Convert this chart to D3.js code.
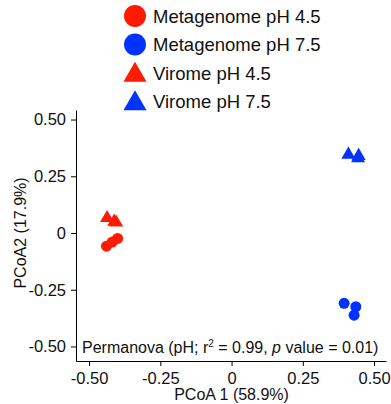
<!DOCTYPE html>
<html>
<head>
<meta charset="utf-8">
<script src="https://cdn.jsdelivr.net/npm/d3@7"></script>
<style>
  body { margin: 0; background: #fff; }
  svg { font-family: "Liberation Sans", Arial, sans-serif; }
  .axis path, .axis line { stroke: #000; }
  .axis text { font-size: 16.5px; fill: #111; }
</style>
</head>
<body>
<svg id="chart" width="391" height="404"></svg>
<script>
// groups in legend order
var groups = ["Metagenome pH 4.5", "Metagenome pH 7.5", "Virome pH 4.5", "Virome pH 7.5"];
var groupColor = ["#ff1a00", "#0033ff", "#ff1a00", "#0033ff"];
var groupShape = ["circle", "circle", "triangle", "triangle"];

// PCoA coordinates [PCoA1, PCoA2]
var meta45 = [[-0.439, -0.058], [-0.419, -0.040], [-0.400, -0.024]];
var meta75 = [[0.395, -0.310], [0.436, -0.325], [0.430, -0.362]];
var vir45 = [[-0.437, 0.066], [-0.412, 0.050], [-0.405, 0.046]];
var vir75 = [[0.410, 0.345], [0.446, 0.340], [0.444, 0.330]];

var xTicks = [-0.5, -0.25, 0, 0.25, 0.5];
var yTicks = [-0.5, -0.25, 0, 0.25, 0.5];

var svg = d3.select("#chart");

var x = d3.scaleLinear().domain([-0.546, 0.542]).range([76, 386]);
var y = d3.scaleLinear().domain([-0.564, 0.542]).range([361, 110]);

var fmt = function (d) { return d === 0 ? "0" : d.toFixed(2); };

svg.append("g")
  .attr("class", "axis")
  .attr("transform", "translate(0,361)")
  .call(d3.axisBottom(x).tickValues(xTicks).tickFormat(fmt).tickSize(5).tickSizeOuter(0).tickPadding(6));

svg.append("g")
  .attr("class", "axis")
  .attr("transform", "translate(76,0)")
  .call(d3.axisLeft(y).tickValues(yTicks).tickFormat(fmt).tickSize(5).tickSizeOuter(0).tickPadding(5));

svg.append("text")
  .attr("x", x(0)).attr("y", 400)
  .attr("text-anchor", "middle")
  .style("font-size", "16px").style("fill", "#111")
  .text("PCoA 1 (58.9%)");

svg.append("text")
  .attr("transform", "translate(26," + y(0) + ") rotate(-90)")
  .attr("text-anchor", "middle")
  .style("font-size", "16px").style("fill", "#111")
  .text("PCoA2 (17.9%)");

// permanova annotation
var perm = svg.append("text")
  .attr("x", 82).attr("y", 353)
  .style("font-size", "16px").style("fill", "#111");
perm.append("tspan").text("Permanova (pH; r");
perm.append("tspan").attr("dy", -6).style("font-size", "10px").text("2");
perm.append("tspan").attr("dy", 6).text(" = 0.99, ");
perm.append("tspan").style("font-style", "italic").text("p");
perm.append("tspan").text(" value = 0.01)");

var tri = d3.symbol().type(d3.symbolTriangle).size(85);

function drawPoints(data, color, shape) {
  var g = svg.append("g");
  if (shape === "circle") {
    g.selectAll("circle").data(data).enter().append("circle")
      .attr("cx", d => x(d[0]))
      .attr("cy", d => y(d[1]))
      .attr("r", 5.5)
      .style("fill", color);
  } else {
    g.selectAll("path").data(data).enter().append("path")
      .attr("d", tri)
      .attr("transform", d => "translate(" + x(d[0]) + "," + y(d[1]) + ")")
      .style("fill", color);
  }
}

drawPoints(meta45, groupColor[0], "circle");
drawPoints(meta75, groupColor[1], "circle");
drawPoints(vir45, groupColor[2], "triangle");
drawPoints(vir75, groupColor[3], "triangle");

// legend
var legTri = d3.symbol().type(d3.symbolTriangle).size(230);
var legend = svg.append("g").selectAll("g")
  .data(groups).enter().append("g")
  .attr("transform", (d, i) => "translate(135," + (16 + i * 28.5) + ")");

legend.each(function (d, i) {
  var el = d3.select(this);
  if (groupShape[i] === "circle") {
    el.append("circle").attr("r", 11).style("fill", groupColor[i]);
  } else {
    el.append("path").attr("d", legTri).attr("transform", "translate(0,2)").style("fill", groupColor[i]);
  }
  el.append("text")
    .attr("x", 18).attr("y", 6.5)
    .style("font-size", "18.5px").style("fill", "#111")
    .text(d);
});
</script>
</body>
</html>
